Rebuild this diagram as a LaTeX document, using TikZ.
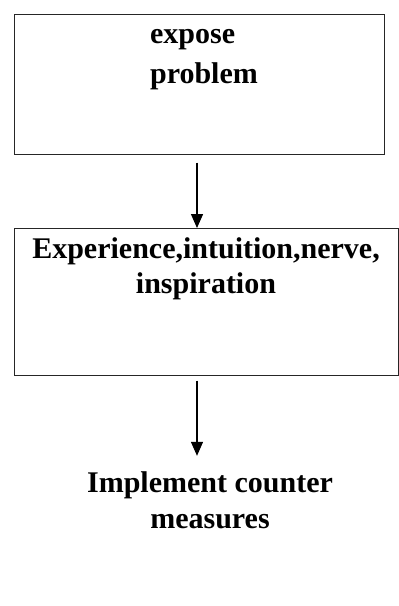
\documentclass[tikz,border=0pt]{standalone}
\usepackage{fontspec}
\setmainfont{Liberation Serif}
\usetikzlibrary{arrows.meta}
\begin{document}
\begin{tikzpicture}[x=1pt,y=1pt,
  stagebox/.style={draw=black!85, line width=0.6pt, inner sep=0pt, anchor=north west},
  stagetext/.style={inner sep=0pt, anchor=north},
  flow/.style={line width=1.4pt, -{Triangle[width=12pt,length=14pt]}}]
\useasboundingbox (0,0) rectangle (399,-606);

% frames of the first two stages
\node[stagebox, minimum width=370pt, minimum height=140pt] (b1) at (14,-14) {};
\node[stagebox, minimum width=383.5pt, minimum height=147pt] (b2) at (14,-228) {};

% stage texts
\node[stagetext, align=left, font=\fontsize{30}{40}\selectfont\bfseries]
  (t1) at (204,-15) {\strut expose\\problem};
\node[stagetext, align=center, font=\fontsize{30}{35}\selectfont\bfseries]
  (t2) at (206,-233.5) {\strut Experience,intuition,nerve,\\inspiration};
\node[stagetext, align=center, font=\fontsize{30}{36}\selectfont\bfseries]
  (t3) at (210,-466.8) {\strut Implement counter\\measures};

% arrows down the chain
\coordinate (ax) at (197,0);
\draw[flow] ([yshift=-8pt]b1.south -| ax) -- (b2.north -| ax);
\draw[flow] ([yshift=-5pt]b2.south -| ax) -- ([yshift=11pt]t3.north -| ax);
\end{tikzpicture}
\end{document}
